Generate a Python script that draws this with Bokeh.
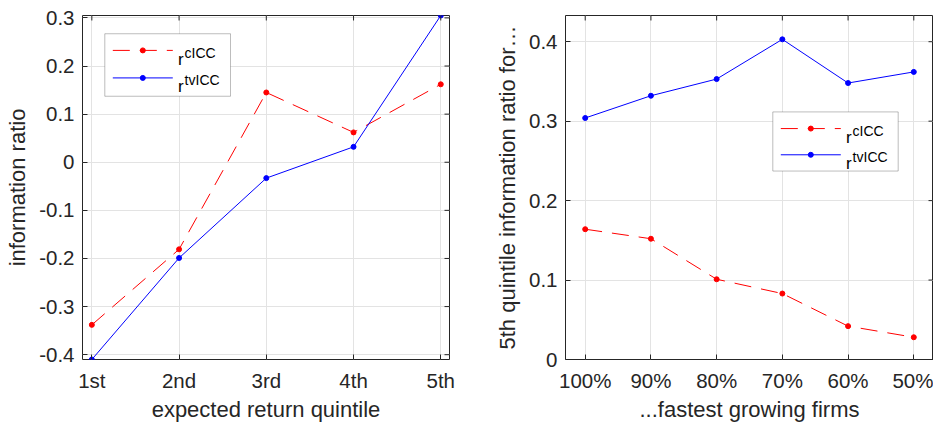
from bokeh.plotting import figure
from bokeh.layouts import row
from bokeh.models import FixedTicker, BoxAnnotation
from bokeh.core.properties import value
from bokeh.embed import file_html
from bokeh.resources import INLINE

# ---- data -----------------------------------------------------------------
quintiles = ["1st", "2nd", "3rd", "4th", "5th"]
ir_cicc = [-0.338, -0.181, 0.145, 0.062, 0.162]
ir_tvicc = [-0.410, -0.199, -0.033, 0.032, 0.305]

growth_shares = ["100%", "90%", "80%", "70%", "60%", "50%"]
q5_cicc = [0.164, 0.152, 0.101, 0.083, 0.042, 0.028]
q5_tvicc = [0.304, 0.332, 0.353, 0.403, 0.348, 0.362]

left_yticks = [-0.4, -0.3, -0.2, -0.1, 0.0, 0.1, 0.2, 0.3]
left_ytick_labels = ["-0.4", "-0.3", "-0.2", "-0.1", "0", "0.1", "0.2", "0.3"]
right_yticks = [0.0, 0.1, 0.2, 0.3, 0.4]
right_ytick_labels = ["0", "0.1", "0.2", "0.3", "0.4"]

series_names = ["cICC", "tvICC"]

# ---- style ------------------------------------------------------------------
FONT = "Liberation Sans"
INK = "#262626"
GRID = "#e3e3e3"
RED = "#ff0000"
BLUE = "#0000ff"
DASH = "17 10"
HEIGHT = 424
BORDER_TOP = 15
BORDER_BOTTOM = 64
TICK = 5


def style_axis(ax, ticks, labels):
    ax.ticker = FixedTicker(ticks=ticks)
    ax.major_label_overrides = {t: l for t, l in zip(ticks, labels)}
    ax.axis_line_color = None
    ax.major_tick_in = TICK
    ax.major_tick_out = 0
    ax.major_tick_line_color = INK
    ax.minor_tick_line_color = None
    ax.major_label_text_font = FONT
    ax.major_label_text_color = INK
    ax.major_label_text_font_size = "20.5px"


def px_to_data(p, sx, sy_from_top):
    """Frame pixel offset (x from left, y from top) -> data coordinates."""
    fw, fh, x0, x1, y0, y1 = p.tags
    return x0 + sx / fw * (x1 - x0), y1 - sy_from_top / fh * (y1 - y0)


def make_panel(width, xs, xlabels, xr, yr, yticks, ylabels, xtitle, ytitle,
               border_left, border_right):
    p = figure(width=width, height=HEIGHT, x_range=xr, y_range=yr,
               output_backend="svg", toolbar_location=None,
               min_border_left=border_left, min_border_right=border_right,
               min_border_top=BORDER_TOP, min_border_bottom=BORDER_BOTTOM)
    p.outline_line_color = INK
    p.outline_line_width = 1
    p.background_fill_color = "white"
    p.border_fill_color = "white"
    # frame geometry, used for pixel-sized decorations
    p.tags = [width - border_left - border_right, HEIGHT - BORDER_TOP - BORDER_BOTTOM,
              xr[0], xr[1], yr[0], yr[1]]

    style_axis(p.xaxis[0], xs, xlabels)
    style_axis(p.yaxis[0], yticks, ylabels)
    p.xaxis.major_label_standoff = 9
    p.yaxis.major_label_standoff = 8
    p.xaxis.axis_label = xtitle
    p.yaxis.axis_label = ytitle
    for ax in (p.xaxis[0], p.yaxis[0]):
        ax.axis_label_text_font = FONT
        ax.axis_label_text_font_size = "22px"
        ax.axis_label_text_font_style = "normal"
        ax.axis_label_text_color = INK
    p.xaxis.axis_label_standoff = 2
    p.yaxis.axis_label_standoff = 6

    p.xgrid.grid_line_color = GRID
    p.ygrid.grid_line_color = GRID
    p.xgrid.grid_line_width = 1
    p.ygrid.grid_line_width = 1

    # inward ticks mirrored on the top and right edges of the box
    fw, fh = p.tags[0], p.tags[1]
    top_y0 = yr[1]
    top_y1 = px_to_data(p, 0, TICK)[1]
    p.segment(x0=xs, y0=[top_y0] * len(xs), x1=xs, y1=[top_y1] * len(xs),
              line_color=INK, line_width=1, level="guide")
    right_x0 = xr[1]
    right_x1 = px_to_data(p, fw - TICK, 0)[0]
    p.segment(x0=[right_x0] * len(yticks), y0=yticks,
              x1=[right_x1] * len(yticks), y1=yticks,
              line_color=INK, line_width=1, level="guide")
    return p


def add_series(p, xs, ys, color, dash):
    p.line(xs, ys, line_color=color, line_width=1, line_dash=dash)
    p.scatter(xs, ys, size=5, fill_color=color, line_color=color)


def add_legend(p, styles, box, pitch, names):
    """Boxed key; box = (left, top, right, bottom) in frame pixels."""
    bl, bt, br, bb = box
    x_l, y_t = px_to_data(p, bl, bt)
    x_r, y_b = px_to_data(p, br, bb)
    p.add_layout(BoxAnnotation(left=x_l, right=x_r, top=y_t, bottom=y_b,
                               fill_color="white", fill_alpha=1.0,
                               line_color=INK, line_width=1, level="underlay"))
    rx, ry, sx_, sy_ = [], [], [], []
    for i, (color, dash) in enumerate(styles):
        yc = bt + 16.7 + i * pitch
        a = px_to_data(p, bl + 8, yc)
        b = px_to_data(p, bl + 68, yc)
        m = px_to_data(p, bl + 38, yc)
        p.line([a[0], b[0]], [a[1], b[1]], line_color=color, line_width=1,
               line_dash=dash)
        p.scatter([m[0]], [m[1]], size=5, fill_color=color, line_color=color)
        base = yc + 8.7
        t = px_to_data(p, bl + 73.3, base)
        s = px_to_data(p, bl + 79.8, base - 6.5)
        rx.append(t[0]); ry.append(t[1]); sx_.append(s[0]); sy_.append(s[1])
    # entry names: "r" with the estimator name raised as a superscript
    p.text(rx, ry, text=["r"] * len(names), text_font=value(FONT),
           text_font_size=value("17px"), text_color="black",
           text_baseline="alphabetic", text_align="left")
    p.text(sx_, sy_, text=list(names), text_font=value(FONT),
           text_font_size=value("14px"), text_color="black",
           text_baseline="alphabetic", text_align="left")


styles = [(RED, DASH), (BLUE, "solid")]

# ---- left panel: information ratio by expected-return quintile -------------
x1 = list(range(1, len(quintiles) + 1))
p1 = make_panel(463, x1, quintiles, (0.893, 5.1), (-0.41, 0.305),
                left_yticks, left_ytick_labels,
                "expected return quintile", "information ratio", 82, 14)
add_series(p1, x1, ir_cicc, RED, DASH)
add_series(p1, x1, ir_tvicc, BLUE, "solid")
add_legend(p1, styles, (22.3, 18.3, 148, 81), 27.6, series_names)

# ---- right panel: top-quintile information ratio by growth subset ----------
x2 = list(range(1, len(growth_shares) + 1))
p2 = make_panel(470, x2, growth_shares, (0.7, 6.3), (0.0, 0.433),
                right_yticks, right_ytick_labels,
                "...fastest growing firms", "5th quintile information ratio for\u2026",
                102, 0)
add_series(p2, x2, q5_cicc, RED, DASH)
add_series(p2, x2, q5_tvicc, BLUE, "solid")
add_legend(p2, styles, (207.3, 96.7, 332.7, 156), 26.3, series_names)

layout = row(p1, p2, spacing=0)
open("out.html", "w").write(file_html(layout, INLINE))
